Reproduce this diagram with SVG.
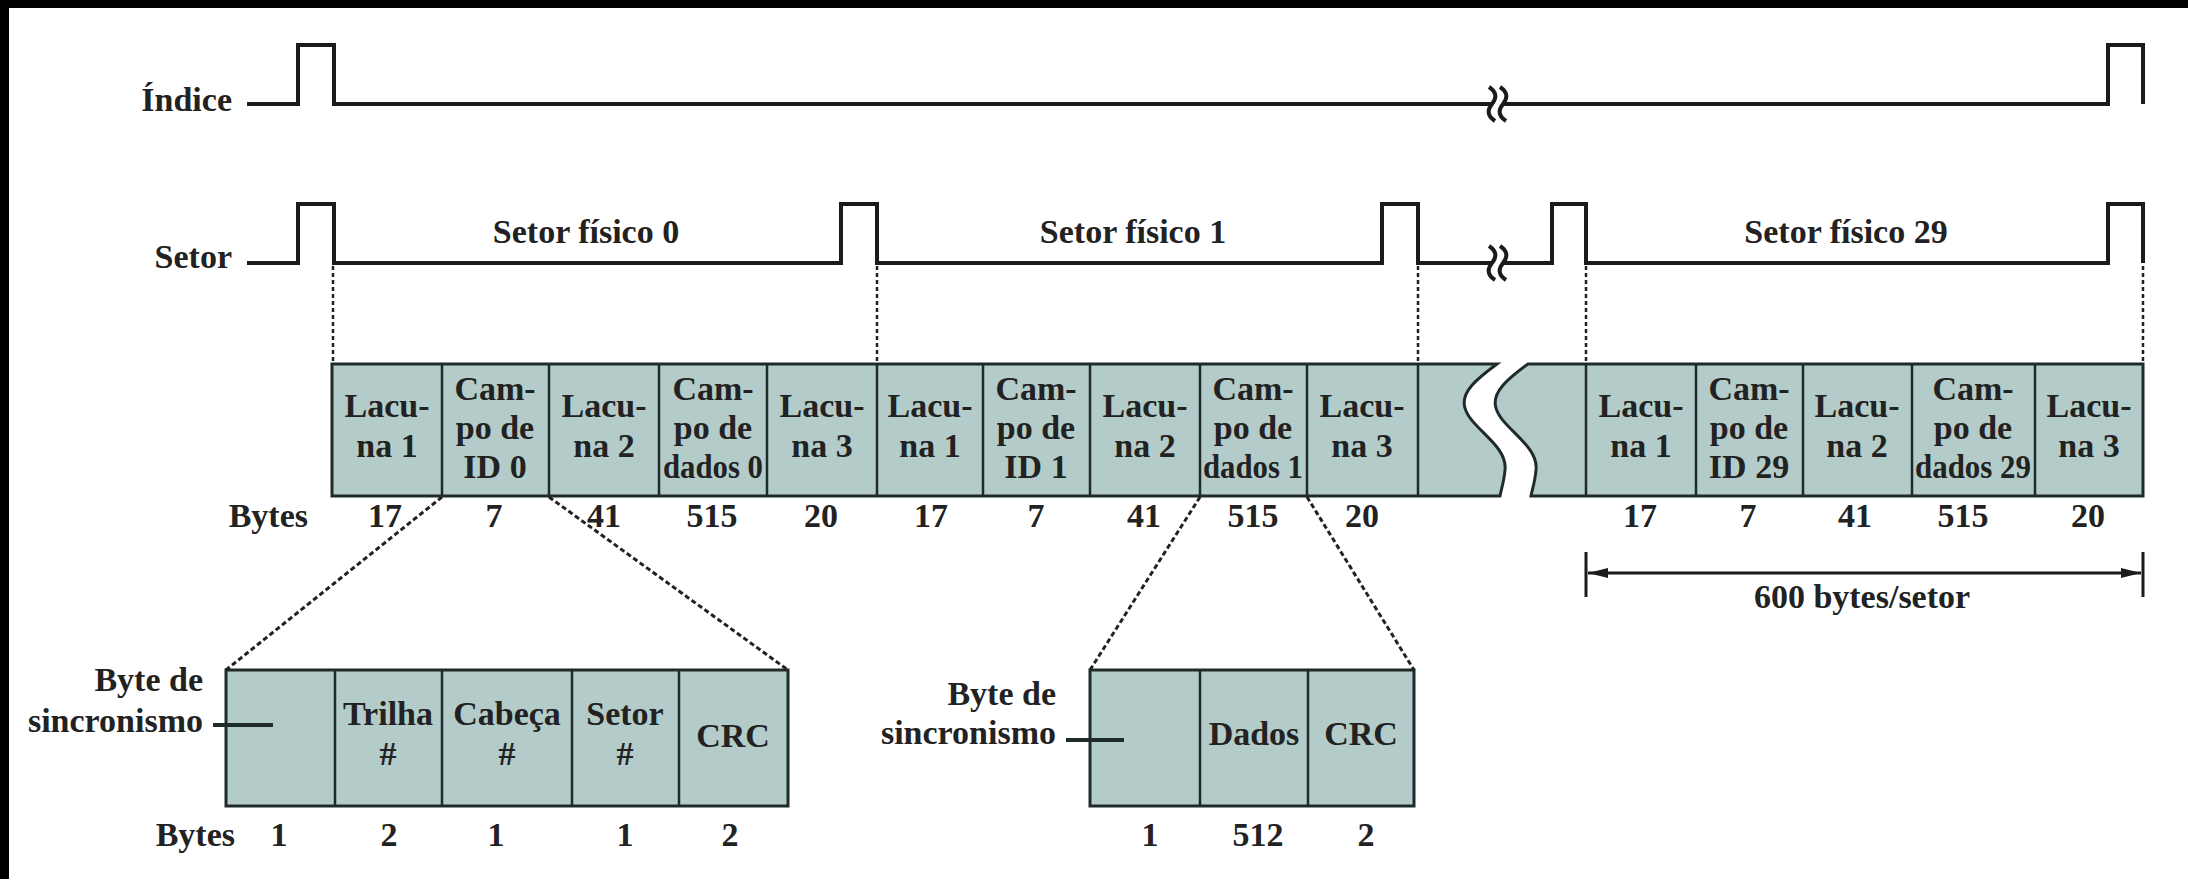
<svg xmlns="http://www.w3.org/2000/svg" width="2188" height="879" viewBox="0 0 2188 879">
<style>
.sig{fill:none;stroke:#1b1b1b;stroke-width:4;stroke-linejoin:miter}
.brk{fill:none;stroke:#1b1b1b;stroke-width:4}
.box{fill:#b4ccc9;stroke:#1f2b2b;stroke-width:3}
.dv{stroke:#1f2b2b;stroke-width:2.5}
.t{font-family:"Liberation Serif","Times New Roman",serif;font-weight:bold;font-size:34px;fill:#222}
.c{text-anchor:middle}
.e{text-anchor:end}
.vd{stroke:#222;stroke-width:2.5;stroke-dasharray:4 3;fill:none}
.dd{stroke:#222;stroke-width:3;stroke-dasharray:5 3;fill:none}
.ar{stroke:#1b1b1b;stroke-width:3;fill:none}
</style>
<defs>
<marker id="ah" viewBox="0 0 20 10" refX="20" refY="5" markerWidth="20" markerHeight="10" markerUnits="userSpaceOnUse" orient="auto-start-reverse"><path d="M0,0 L20,5 L0,10 Z" fill="#1b1b1b"/></marker>
<path id="sq" d="M-3,-17 C6,-11 4,-5 0,0 C-4,5 -6,11 3,17"/>
</defs>
<rect width="2188" height="879" fill="#ffffff"/>
<g id="frame"><rect x="0" y="0" width="2188" height="8" fill="#000"/><rect x="0" y="0" width="9" height="879" fill="#000"/></g>

<g id="index-signal">
<text class="t e" x="232" y="111">Índice</text>
<path class="sig" d="M247,104 H298 V45 H334 V104 H1492 M1503,104 H2108 V45 H2143 V104"/>
<use href="#sq" class="brk" x="1492" y="104"/>
<use href="#sq" class="brk" x="1503" y="104"/>
</g>

<g id="sector-signal">
<text class="t e" x="232" y="268">Setor</text>
<path class="sig" d="M247,263 H298 V204 H334 V263 H841 V204 H877 V263 H1382 V204 H1418 V263 H1492 M1503,263 H1552 V204 H1586 V263 H2108 V204 H2143 V263"/>
<use href="#sq" class="brk" x="1492" y="263"/>
<use href="#sq" class="brk" x="1503" y="263"/>
<text class="t c" x="586" y="243">Setor físico 0</text>
<text class="t c" x="1133" y="243">Setor físico 1</text>
<text class="t c" x="1846" y="243">Setor físico 29</text>
</g>

<g id="track">
<path class="box" d="M332,364 H1497 C1478,378 1460,392 1465,408 C1470,428 1508,445 1505,470 C1504,482 1501,490 1500,496 H332 Z"/>
<path class="box" d="M1528,364 H2143 V496 H1531 C1532,490 1535,482 1536,470 C1539,445 1501,428 1496,408 C1491,392 1509,378 1528,364 Z"/>
<g class="dv">
<line x1="442" y1="364" x2="442" y2="496"/><line x1="549" y1="364" x2="549" y2="496"/><line x1="659" y1="364" x2="659" y2="496"/><line x1="767" y1="364" x2="767" y2="496"/><line x1="877" y1="364" x2="877" y2="496"/>
<line x1="983" y1="364" x2="983" y2="496"/><line x1="1090" y1="364" x2="1090" y2="496"/><line x1="1200" y1="364" x2="1200" y2="496"/><line x1="1307" y1="364" x2="1307" y2="496"/><line x1="1418" y1="364" x2="1418" y2="496"/>
<line x1="1586" y1="364" x2="1586" y2="496"/><line x1="1696" y1="364" x2="1696" y2="496"/><line x1="1803" y1="364" x2="1803" y2="496"/><line x1="1912" y1="364" x2="1912" y2="496"/><line x1="2035" y1="364" x2="2035" y2="496"/>
</g>
<g id="sector0-cells">
<text class="t c" x="387" y="417">Lacu-</text><text class="t c" x="387" y="457">na 1</text>
<text class="t c" x="495" y="400">Cam-</text><text class="t c" x="495" y="439">po de</text><text class="t c" x="495" y="478">ID 0</text>
<text class="t c" x="604" y="417">Lacu-</text><text class="t c" x="604" y="457">na 2</text>
<text class="t c" x="713" y="400">Cam-</text><text class="t c" x="713" y="439">po de</text><text class="t c" x="713" y="478" textLength="100" lengthAdjust="spacingAndGlyphs">dados 0</text>
<text class="t c" x="822" y="417">Lacu-</text><text class="t c" x="822" y="457">na 3</text>
</g>
<g id="sector1-cells">
<text class="t c" x="930" y="417">Lacu-</text><text class="t c" x="930" y="457">na 1</text>
<text class="t c" x="1036" y="400">Cam-</text><text class="t c" x="1036" y="439">po de</text><text class="t c" x="1036" y="478">ID 1</text>
<text class="t c" x="1145" y="417">Lacu-</text><text class="t c" x="1145" y="457">na 2</text>
<text class="t c" x="1253" y="400">Cam-</text><text class="t c" x="1253" y="439">po de</text><text class="t c" x="1253" y="478" textLength="100" lengthAdjust="spacingAndGlyphs">dados 1</text>
<text class="t c" x="1362" y="417">Lacu-</text><text class="t c" x="1362" y="457">na 3</text>
</g>
<g id="sector29-cells">
<text class="t c" x="1641" y="417">Lacu-</text><text class="t c" x="1641" y="457">na 1</text>
<text class="t c" x="1749" y="400">Cam-</text><text class="t c" x="1749" y="439">po de</text><text class="t c" x="1749" y="478">ID 29</text>
<text class="t c" x="1857" y="417">Lacu-</text><text class="t c" x="1857" y="457">na 2</text>
<text class="t c" x="1973" y="400">Cam-</text><text class="t c" x="1973" y="439">po de</text><text class="t c" x="1973" y="478" textLength="116" lengthAdjust="spacingAndGlyphs">dados 29</text>
<text class="t c" x="2089" y="417">Lacu-</text><text class="t c" x="2089" y="457">na 3</text>
</g>
<g id="track-bytes">
<text class="t e" x="308" y="527">Bytes</text>
<text class="t c" x="385" y="527">17</text><text class="t c" x="494" y="527">7</text><text class="t c" x="604" y="527">41</text><text class="t c" x="712" y="527">515</text><text class="t c" x="821" y="527">20</text>
<text class="t c" x="931" y="527">17</text><text class="t c" x="1036" y="527">7</text><text class="t c" x="1144" y="527">41</text><text class="t c" x="1253" y="527">515</text><text class="t c" x="1362" y="527">20</text>
<text class="t c" x="1640" y="527">17</text><text class="t c" x="1748" y="527">7</text><text class="t c" x="1855" y="527">41</text><text class="t c" x="1963" y="527">515</text><text class="t c" x="2088" y="527">20</text>
</g>
</g>

<g id="sector-size">
<text class="t c" x="1862" y="608">600 bytes/setor</text>
</g>

<g id="id-field-detail">
<rect class="box" x="226" y="670" width="562" height="136"/>
<g class="dv"><line x1="335" y1="670" x2="335" y2="806"/><line x1="442" y1="670" x2="442" y2="806"/><line x1="572" y1="670" x2="572" y2="806"/><line x1="679" y1="670" x2="679" y2="806"/></g>
<text class="t e" x="203" y="691">Byte de</text>
<text class="t e" x="203" y="732">sincronismo</text>
<line x1="213" y1="725" x2="273" y2="725" stroke="#1f2b2b" stroke-width="4"/>
<text class="t c" x="388" y="725">Trilha</text><text class="t c" x="388" y="765">#</text>
<text class="t c" x="507" y="725">Cabeça</text><text class="t c" x="507" y="765">#</text>
<text class="t c" x="625" y="725">Setor</text><text class="t c" x="625" y="765">#</text>
<text class="t c" x="733" y="747">CRC</text>
<text class="t e" x="235" y="846">Bytes</text>
<text class="t c" x="279" y="846">1</text><text class="t c" x="389" y="846">2</text><text class="t c" x="496" y="846">1</text><text class="t c" x="625" y="846">1</text><text class="t c" x="730" y="846">2</text>
</g>

<g id="data-field-detail">
<rect class="box" x="1090" y="670" width="324" height="136"/>
<g class="dv"><line x1="1200" y1="670" x2="1200" y2="806"/><line x1="1308" y1="670" x2="1308" y2="806"/></g>
<text class="t e" x="1056" y="705">Byte de</text>
<text class="t e" x="1056" y="744">sincronismo</text>
<line x1="1066" y1="740" x2="1124" y2="740" stroke="#1f2b2b" stroke-width="4"/>
<text class="t c" x="1254" y="745">Dados</text>
<text class="t c" x="1361" y="745">CRC</text>
<text class="t c" x="1150" y="846">1</text><text class="t c" x="1258" y="846">512</text><text class="t c" x="1366" y="846">2</text>
</g>

<g id="connectors">
<line class="vd" x1="333" y1="266" x2="333" y2="364"/>
<line class="vd" x1="877" y1="266" x2="877" y2="364"/>
<line class="vd" x1="1418" y1="266" x2="1418" y2="364"/>
<line class="vd" x1="1586" y1="266" x2="1586" y2="364"/>
<line class="vd" x1="2143" y1="266" x2="2143" y2="364"/>
<line class="dd" x1="442" y1="497" x2="226" y2="670"/>
<line class="dd" x1="549" y1="497" x2="788" y2="670"/>
<line class="dd" x1="1200" y1="497" x2="1090" y2="670"/>
<line class="dd" x1="1307" y1="497" x2="1414" y2="670"/>
<line class="ar" x1="1586" y1="552" x2="1586" y2="597"/>
<line class="ar" x1="2143" y1="552" x2="2143" y2="597"/>
<line class="ar" x1="1588" y1="573" x2="2141" y2="573" marker-start="url(#ah)" marker-end="url(#ah)"/>
</g>
</svg>
